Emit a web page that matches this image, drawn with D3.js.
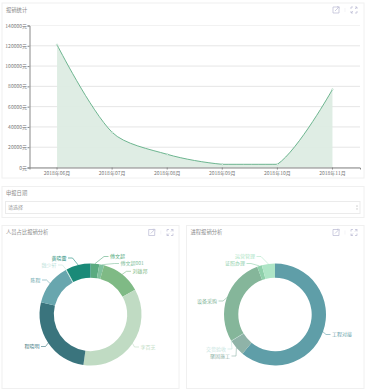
<!DOCTYPE html>
<html><head><meta charset="utf-8">
<script src="https://cdn.jsdelivr.net/npm/d3@7/dist/d3.min.js"></script>
<style>html,body{margin:0;padding:0;background:#fff}svg{display:block}
text{font-family:"Noto Sans CJK SC","Noto Sans",sans-serif}</style></head>
<body><svg id="c" width="366" height="390"></svg>
<script>
// ---- data ----
const months = ["2018年06月","2018年07月","2018年08月","2018年09月","2018年10月","2018年11月"];
const amounts = [121000,34700,13000,3150,3150,77000];
const yTicks = [0,20000,40000,60000,80000,100000,120000,140000];
const peopleNames = ["傅文超","傅文超001","刘雄邦","李百芝","程晓明","陈程","魏少轩","黄晓蕾"];
const peopleValues = [10,5.4,45.6,127,96,47,1,28];
const peopleColors = ["#5aab80","#7fc19d","#7fba85","#c0dbc3","#3a747d","#68a6ae","#c4e4de","#1a8a78"];
const stageNames = ["工程对接","聚固施工","交货验收","设备采购","证照办理","运营管理"];
const stageValues = [220,19,0.5,100.5,5.5,15];
const stageColors = ["#5f9ea8","#8fb3a8","#c4e4de","#85b69a","#8fd0ab","#aee5c6"];
// layout only: where each pie label's text starts/ends, relative to the pie centre
const peopleLabelAt = [[19.5,-58],[30,-51],[42,-43.2],[50,32.5],[-51,32],[-50,-34.5],[-34,-49.5],[-24,-56.5]];
const stageLabelAt = [[57,20],[-45,41.5],[-49,34.5],[-58,-13.5],[-30,-51],[-20,-58]];

const svg = d3.select("#c");
const grey = "#8c8c8c";

function card(x,y,w,h){
  svg.append("rect").attr("x",x+.5).attr("y",y+.5).attr("width",w).attr("height",h)
    .attr("fill","#fff").attr("stroke","#f0f0f0");
}
function label(x,y,s,size,fill,anchor){
  return svg.append("text").attr("x",x).attr("y",y).attr("dy",".35em").attr("font-size",size)
    .attr("fill",fill).attr("text-anchor",anchor||"start").text(s);
}
function icons(x1,x2,y){
  const c="#b9b9d2";
  const g=svg.append("g").attr("fill","none").attr("stroke",c).attr("stroke-width",.7);
  g.append("path").attr("d",`M${x1+2},${y-3}H${x1-3}V${y+3}H${x1+3}V${y-1}M${x1-1},${y+1}L${x1+3},${y-3}M${x1+1},${y-3.2}H${x1+3.2}V${y-1}`);
  g.append("path").attr("d",`M${x2-3},${y-1}V${y-3}H${x2-1}M${x2+1},${y-3}H${x2+3}V${y-1}M${x2+3},${y+1}V${y+3}H${x2+1}M${x2-1},${y+3}H${x2-3}V${y+1}M${x2-3},${y+3}L${x2-1},${y+1}M${x2+3},${y-3}L${x2+1},${y-1}`);
  svg.append("line").attr("x1",(x1+x2)/2).attr("x2",(x1+x2)/2).attr("y1",y-2).attr("y2",y+2).attr("stroke","#ececf2").attr("stroke-width",.6);
}

// d3 curve: centred tangents scaled by neighbour distance, control points clamped to the data's y range
function SmoothClamped(ctx){this._c=ctx;}
SmoothClamped.prototype={
  areaStart(){this._line=0;},
  areaEnd(){this._line=NaN;this._c.closePath();},
  lineStart(){this._p=[];},
  point(x,y){this._p.push([+x,+y]);},
  lineEnd(){
    const p=this._p,c=this._c,k=.3;
    const ys=p.map(d=>d[1]),lo=Math.min(...ys),hi=Math.max(...ys);
    const clampY=v=>Math.max(lo,Math.min(hi,v));
    if(this._line===1)c.lineTo(p[0][0],p[0][1]);else c.moveTo(p[0][0],p[0][1]);
    const cp=p.map((q,i)=>{
      if(i===0||i===p.length-1)return [q,q];
      const a=p[i-1],b=p[i+1],vx=(b[0]-a[0])*k,vy=(b[1]-a[1])*k;
      let d0=Math.hypot(q[0]-a[0],q[1]-a[1]),d1=Math.hypot(q[0]-b[0],q[1]-b[1]);
      const s=d0+d1||1;d0/=s;d1/=s;
      return [[q[0]-vx*d0,clampY(q[1]-vy*d0)],[q[0]+vx*d1,clampY(q[1]+vy*d1)]];
    });
    for(let i=1;i<p.length;i++)
      c.bezierCurveTo(cp[i-1][1][0],cp[i-1][1][1],cp[i][0][0],cp[i][0][1],p[i][0],p[i][1]);
    this._line=1-this._line;
  }
};
const smooth=ctx=>new SmoothClamped(ctx);

// cards
card(1.5,2.5,362,175);
card(1.5,186,362,31);
card(1.5,225,177,163);
card(186,225,177.5,163);

// ---- top chart ----
label(6,10,"报销统计",5.3,grey);
icons(336,354,10);
const x = d3.scaleBand().domain(months).range([29.5,360]);
const y = d3.scaleLinear().domain([0,140000]).range([167.5,25.5]);
const cx = d => x(d)+x.bandwidth()/2;
svg.append("g").selectAll("line").data(yTicks).join("line")
  .attr("x1",29.5).attr("x2",360).attr("y1",d=>y(d)).attr("y2",d=>y(d))
  .attr("stroke",d=>d===140000?"#f2f2f2":"#e6e6e6").attr("stroke-width",1);
const pts = months.map((m,i)=>[cx(m),amounts[i]]);
svg.append("path").datum(pts).attr("fill","#dcebe2").attr("fill-opacity",.92)
  .attr("d",d3.area().x(d=>d[0]).y0(y(0)).y1(d=>y(d[1])).curve(smooth));
svg.append("path").datum(pts).attr("fill","none").attr("stroke","#5fae85").attr("stroke-width",.9)
  .attr("d",d3.line().x(d=>d[0]).y(d=>y(d[1])).curve(smooth));
svg.append("g").selectAll("circle").data(pts).join("circle")
  .attr("cx",d=>d[0]).attr("cy",d=>y(d[1])).attr("r",.8).attr("fill","#fff").attr("stroke","#8cc5a6").attr("stroke-width",.4);
const ay = svg.append("g").attr("transform","translate(29.5,0)")
  .call(d3.axisLeft(y).tickValues(yTicks).tickFormat(d=>d+"元").tickSize(2).tickPadding(.5));
const ax = svg.append("g").attr("transform","translate(0,167.5)")
  .call(d3.axisBottom(x).tickSize(2).tickPadding(1.5));
[ax,ay].forEach(a=>{
  a.selectAll("path,line").attr("stroke","#888").attr("stroke-width",1);
  a.selectAll("text").attr("font-size",5).attr("fill","#777").attr("font-family",'"Noto Sans CJK SC",sans-serif');
});

// ---- date select ----
label(6,193.5,"申报日期",5.3,grey);
svg.append("rect").attr("x",5.5).attr("y",201.5).attr("width",354.5).attr("height",12)
  .attr("fill","#fff").attr("stroke","#ebebeb");
label(8,207.5,"请选择",5,"#999");
svg.append("path").attr("d","M356,206.5l1,-1.5l1,1.5zM356,208.5l1,1.5l1,-1.5z").attr("fill","#c4c4c4");

// ---- donuts ----
function donut(names,values,colors,at,cx0,cy0){
  const R=51, r=36.7;
  const arcs=d3.pie().sort(null).value(d=>d)(values);
  const arc=d3.arc().innerRadius(r).outerRadius(R);
  const g=svg.append("g").attr("transform",`translate(${cx0},${cy0})`);
  g.selectAll("path.s").data(arcs).join("path").attr("class","s")
    .attr("d",arc).attr("fill",(d,i)=>colors[i]);
  arcs.forEach((a,i)=>{
    const m=(a.startAngle+a.endAngle)/2, sx=Math.sin(m), sy=-Math.cos(m);
    const side=at[i][0]>=0?1:-1;
    const tx=at[i][0], ty=at[i][1];
    const x3=tx-side*1.5, x2=x3-side*4.5;
    g.append("path").attr("fill","none").attr("stroke",colors[i]).attr("stroke-width",.6)
      .attr("d",`M${sx*R},${sy*R}L${x2},${ty}L${x3},${ty}`);
    g.append("text").attr("x",tx).attr("y",ty).attr("dy",".35em").attr("font-size",5)
      .attr("text-anchor",side>0?"start":"end").attr("fill",colors[i]).text(names[i]);
  });
}
label(6,232.5,"人员占比报销分析",5.3,grey);
icons(151.7,170,232.5);
donut(peopleNames,peopleValues,peopleColors,peopleLabelAt,90.5,314.5);
label(190.5,232.5,"进程报销分析",5.3,grey);
icons(336,354,232.5);
donut(stageNames,stageValues,stageColors,stageLabelAt,275,314.5);
</script></body></html>
